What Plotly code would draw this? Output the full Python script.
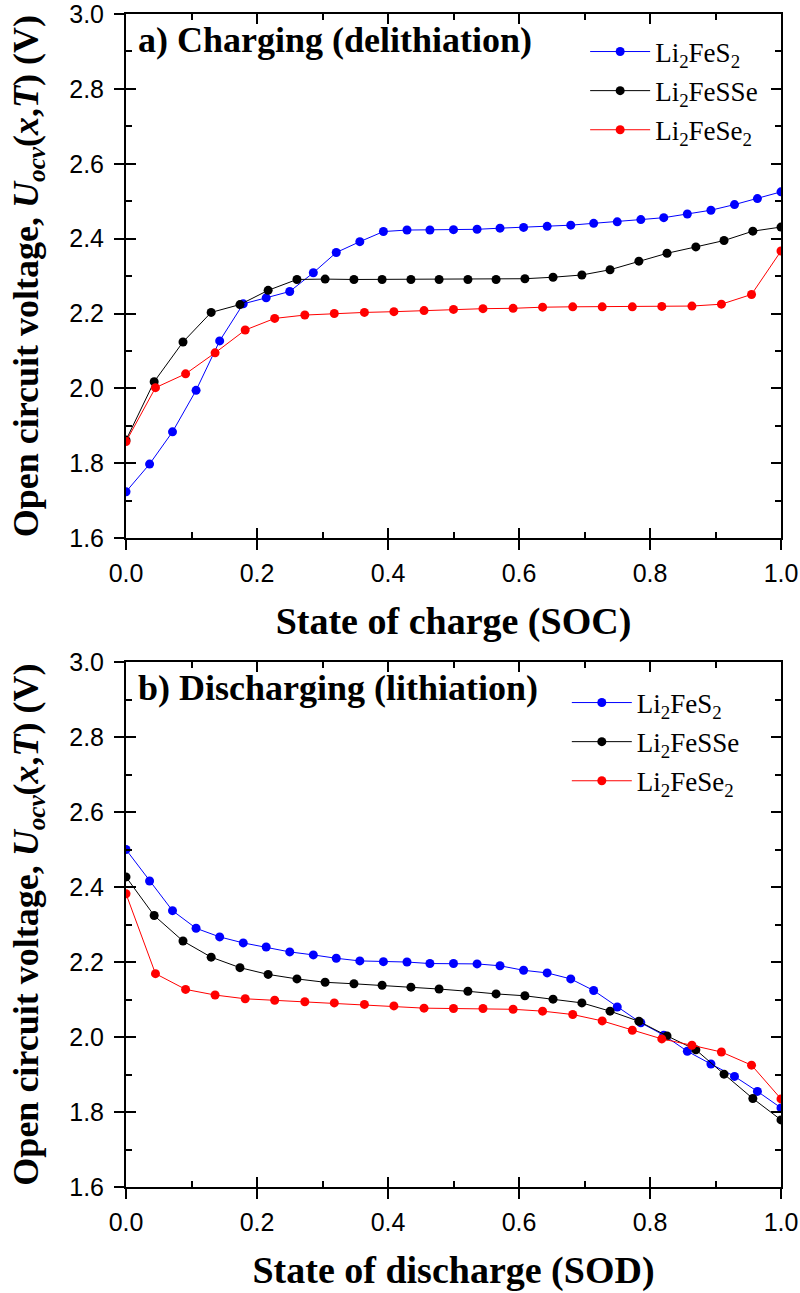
import plotly.graph_objects as go

# ---------------- data ----------------
series_names = ["Li<sub>2</sub>FeS<sub>2</sub>", "Li<sub>2</sub>FeSSe", "Li<sub>2</sub>FeSe<sub>2</sub>"]
series_colors = ["#0000FF", "#000000", "#FF0000"]

x_s2 = [0.0, 0.036, 0.071, 0.107, 0.143, 0.179, 0.214, 0.25, 0.286, 0.321, 0.357, 0.393, 0.429, 0.464,
        0.5, 0.536, 0.571, 0.607, 0.643, 0.679, 0.714, 0.75, 0.786, 0.821, 0.857, 0.893, 0.929, 0.964, 1.0]
x_sse = [0.0, 0.043, 0.087, 0.130, 0.174, 0.217, 0.261, 0.304, 0.348, 0.391, 0.435, 0.478, 0.522, 0.565,
         0.609, 0.652, 0.696, 0.739, 0.783, 0.826, 0.870, 0.913, 0.957, 1.0]
x_se2 = [0.0, 0.045, 0.091, 0.136, 0.182, 0.227, 0.273, 0.318, 0.364, 0.409, 0.455, 0.5, 0.545, 0.591,
         0.636, 0.682, 0.727, 0.773, 0.818, 0.864, 0.909, 0.955, 1.0]

charge_s2 = [1.724, 1.798, 1.884, 1.995, 2.127, 2.226, 2.242, 2.259, 2.309, 2.363, 2.392, 2.419, 2.423, 2.423,
             2.424, 2.425, 2.428, 2.430, 2.433, 2.436, 2.441, 2.445, 2.451, 2.456, 2.466, 2.476, 2.491, 2.507, 2.525]
charge_sse = [1.862, 2.018, 2.124, 2.203, 2.224, 2.262, 2.291, 2.292, 2.291, 2.291, 2.291, 2.291, 2.291, 2.291,
              2.293, 2.297, 2.303, 2.317, 2.340, 2.361, 2.378, 2.395, 2.420, 2.431]
charge_se2 = [1.858, 2.002, 2.039, 2.095, 2.156, 2.187, 2.196, 2.200, 2.203, 2.205, 2.208, 2.211, 2.213, 2.214,
              2.217, 2.218, 2.218, 2.218, 2.219, 2.220, 2.225, 2.251, 2.367]

dis_s2 = [2.500, 2.416, 2.337, 2.290, 2.267, 2.251, 2.240, 2.227, 2.219, 2.210, 2.203, 2.201, 2.200, 2.196,
          2.196, 2.195, 2.190, 2.178, 2.171, 2.155, 2.124, 2.080, 2.038, 2.005, 1.962, 1.928, 1.895, 1.855, 1.811]
dis_sse = [2.427, 2.324, 2.256, 2.213, 2.185, 2.167, 2.155, 2.146, 2.142, 2.138, 2.133, 2.128, 2.122, 2.115,
           2.110, 2.101, 2.091, 2.069, 2.042, 2.003, 1.966, 1.901, 1.836, 1.779]
dis_se2 = [2.382, 2.169, 2.127, 2.112, 2.102, 2.098, 2.094, 2.091, 2.087, 2.083, 2.077, 2.076, 2.076, 2.074,
           2.069, 2.060, 2.043, 2.018, 1.995, 1.978, 1.960, 1.925, 1.835]

x_ticks = [0.0, 0.2, 0.4, 0.6, 0.8, 1.0]
x_tick_text = ["0.0", "0.2", "0.4", "0.6", "0.8", "1.0"]
x_minor = [0.1, 0.3, 0.5, 0.7, 0.9]
y_ticks = [1.6, 1.8, 2.0, 2.2, 2.4, 2.6, 2.8, 3.0]
y_tick_text = ["1.6", "1.8", "2.0", "2.2", "2.4", "2.6", "2.8", "3.0"]
y_minor = [1.7, 1.9, 2.1, 2.3, 2.5, 2.7, 2.9]

panel_titles = ["<b>a) Charging (delithiation)</b>", "<b>b) Discharging (lithiation)</b>"]
x_titles = ["<b>State of charge (SOC)</b>", "<b>State of discharge (SOD)</b>"]
y_title = "<b>Open circuit voltage, <i>U</i><sub><i>ocv</i></sub>(<i>x</i>,<i>T</i>) (V)</b>"

SERIF = "Liberation Serif, Times New Roman, serif"
SANS = "Liberation Sans, Arial, sans-serif"

fig = go.Figure()

panels = [
    ("x", "y", "x3", "y3", "legend", [(x_s2, charge_s2), (x_sse, charge_sse), (x_se2, charge_se2)]),
    ("x2", "y2", "x4", "y4", "legend2", [(x_s2, dis_s2), (x_sse, dis_sse), (x_se2, dis_se2)]),
]
for xa, ya, xo, yo, leg, data in panels:
    for k, (xs, ys) in enumerate(data):
        fig.add_trace(go.Scatter(
            x=xs, y=ys, xaxis=xa, yaxis=ya, mode="lines+markers",
            name=series_names[k], legend=leg, legendgroup=leg + str(k),
            line=dict(color=series_colors[k], width=1),
            marker=dict(color=series_colors[k], size=9, line=dict(width=0)),
        ))
    # empty helper traces so that the tick-only overlay axes get drawn
    fig.add_trace(go.Scatter(x=[], y=[], xaxis=xo, yaxis=ya, showlegend=False, hoverinfo="skip"))
    fig.add_trace(go.Scatter(x=[], y=[], xaxis=xa, yaxis=yo, showlegend=False, hoverinfo="skip"))

top_dom = [0.5531, 1.0]
bot_dom = [0.0, 0.4475]

def main_x(anchor, t):
    return dict(range=[0, 1], domain=[0, 1], tickvals=x_ticks, ticktext=x_tick_text, ticks="outside",
                ticklen=10, tickwidth=2, tickcolor="black", showline=True, linewidth=2, linecolor="black",
                mirror=True, showgrid=False, zeroline=False, anchor=anchor, automargin=False,
                ticklabeloverflow="allow", ticklabelstandoff=2,
                tickfont=dict(family=SANS, size=25, color="black"),
                title=dict(text=t, font=dict(family=SERIF, size=38, color="black"), standoff=21))

def main_y(anchor, dom):
    return dict(range=[1.6, 3.0], tickvals=y_ticks, ticktext=y_tick_text, ticks="outside", ticklen=10,
                tickwidth=2, tickcolor="black", showline=True, linewidth=2, linecolor="black",
                mirror=True, showgrid=False, zeroline=False, anchor=anchor, domain=dom, automargin=False,
                ticklabeloverflow="allow", ticklabelstandoff=5,
                tickfont=dict(family=SANS, size=25, color="black"),
                title=dict(text=y_title, font=dict(family=SERIF, size=36, color="black"), standoff=20))

def over_x(over, anchor):
    return dict(range=[0, 1], overlaying=over, anchor=anchor, tickvals=x_ticks, ticks="inside", ticklen=10,
                tickwidth=2, tickcolor="black", mirror="allticks", showticklabels=False, showline=False,
                showgrid=False, zeroline=False, automargin=False,
                minor=dict(tickvals=x_minor, ticks="inside", ticklen=6, tickwidth=2,
                           tickcolor="black", showgrid=False))

def over_y(over, anchor, dom):
    return dict(range=[1.6, 3.0], overlaying=over, anchor=anchor, domain=dom, tickvals=y_ticks, ticks="inside",
                ticklen=10, tickwidth=2, tickcolor="black", mirror="allticks", showticklabels=False,
                showline=False, showgrid=False, zeroline=False, automargin=False,
                minor=dict(tickvals=y_minor, ticks="inside", ticklen=6, tickwidth=2,
                           tickcolor="black", showgrid=False))

legend_common = dict(xref="paper", yref="paper", xanchor="left", yanchor="top",
                     bgcolor="rgba(0,0,0,0)", itemwidth=60, tracegroupgap=1,
                     font=dict(family=SERIF, size=27, color="black"))

fig.update_layout(
    width=800, height=1293,
    margin=dict(l=126, r=19, t=14, b=106, autoexpand=False),
    paper_bgcolor="white", plot_bgcolor="white",
    xaxis=main_x("y", x_titles[0]),
    yaxis=main_y("x", top_dom),
    xaxis2=main_x("y2", x_titles[1]),
    yaxis2=main_y("x2", bot_dom),
    xaxis3=over_x("x", "y"),
    yaxis3=over_y("y", "x", top_dom),
    xaxis4=over_x("x2", "y2"),
    yaxis4=over_y("y2", "x2", bot_dom),
    showlegend=True,
    legend=dict(x=0.701, y=0.9885, **legend_common),
    legend2=dict(x=0.673, y=0.4335, **legend_common),
)

for i, t in enumerate(panel_titles):
    fig.add_annotation(text=t, xref="x domain" if i == 0 else "x2 domain",
                       yref="y domain" if i == 0 else "y2 domain",
                       x=0.015, y=0.993, xanchor="left", yanchor="top", showarrow=False,
                       font=dict(family=SERIF, size=36, color="black"))

fig.write_html("out.html", config={"displayModeBar": False},
               post_script="document.body.style.margin='0px';")
